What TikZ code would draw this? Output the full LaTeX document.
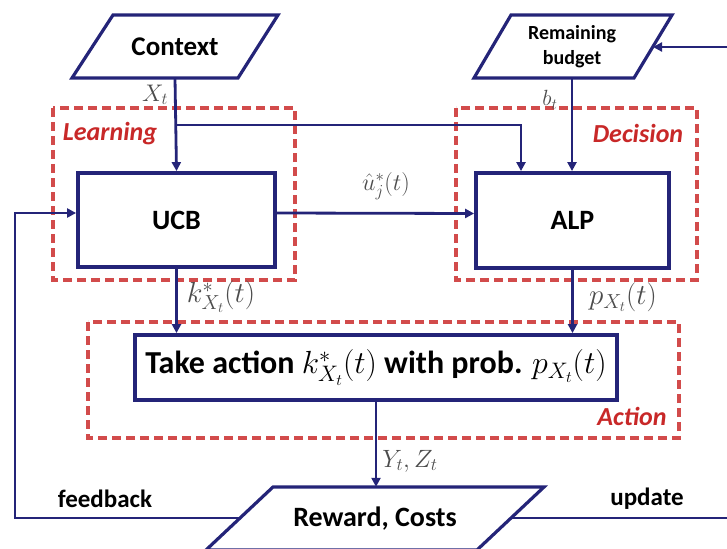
\documentclass[tikz,border=0pt]{standalone}
\usepackage{fix-cm}
\usepackage{fontspec}
\setmainfont{Carlito}
\usetikzlibrary{arrows.meta}

\definecolor{navy}{RGB}{36,36,120}
\definecolor{dashred}{RGB}{210,75,75}
\definecolor{labred}{RGB}{200,40,40}

\tikzset{
  flow/.style={draw=navy, line width=2.8pt, -{Triangle[length=9pt,width=9pt]}},
  procbox/.style={draw=navy, line width=3.8pt, fill=white, rectangle, inner sep=0pt},
  ioshape/.style={draw=navy, line width=3.2pt, fill=white, line join=miter},
  iotext/.style={rectangle, inner sep=0pt, align=center},
  groupbox/.style={draw=dashred, line width=3.2pt, dash pattern=on 9pt off 5pt},
  grouptag/.style={text=labred, font=\fontsize{26}{28}\selectfont\bfseries\itshape},
  mathtag/.style={text=black!70, font=\fontsize{24}{26}\selectfont},
  plaintag/.style={font=\fontsize{25}{27}\selectfont\bfseries}
}

\begin{document}
\begin{tikzpicture}[x=1pt,y=-1pt]
\useasboundingbox (0,0) rectangle (727,548);
\clip (0,0) rectangle (727,548);

% dashed grouping boxes
\draw[groupbox] (53,108) rectangle (295,280);
\draw[groupbox] (456,108) rectangle (697,280);
\draw[groupbox] (88,322) rectangle (679,438);
\node[grouptag] (learning) at (110,134) {Learning};
\node[grouptag] (decision) at (638,133) {Decision};
\node[grouptag] (action) at (632,416) {Action};

% input parallelograms
\draw[ioshape] (72,78) -- (113,15) -- (278,15) -- (238,78) -- cycle;
\node[iotext, minimum width=125pt, minimum height=63pt,
  font=\fontsize{27}{29}\selectfont\bfseries] (context) at (175,46.5) {Context};

\draw[ioshape] (474,78) -- (511,15) -- (672,15) -- (634,78) -- cycle;
\node[iotext, minimum width=124pt, minimum height=63pt,
  font=\fontsize{20}{25}\selectfont\bfseries] (budget) at (572,47) {Remaining\\budget};
\coordinate (budgetin) at (653,47);

% processing blocks
\node[procbox, minimum width=197pt, minimum height=94pt,
  font=\fontsize{28}{30}\selectfont\bfseries] (ucb) at (176.5,220) {UCB};
\node[procbox, minimum width=193pt, minimum height=95pt,
  font=\fontsize{28}{30}\selectfont\bfseries] (alp) at (572.5,220.5) {ALP};
\node[procbox, minimum width=482pt, minimum height=65pt,
  font=\fontsize{32}{34}\selectfont\bfseries] (act) at (376,367.5)
  {Take action $k^*_{X_t}(t)$ with prob. $p_{X_t}(t)$};

% outcome parallelogram
\draw[ioshape] (206,550) -- (273,487) -- (544,487) -- (477,550) -- cycle;
\node[iotext, minimum width=204pt, minimum height=63pt,
  font=\fontsize{28}{30}\selectfont\bfseries] (reward) at (375,518.5) {Reward, Costs};
\coordinate (rewardout-l) at (241,518);
\coordinate (rewardout-r) at (511,518);

% connectors
\coordinate (split) at (175,125);
\coordinate (alpin) at (521,125);
\draw[flow] (context.south) -- (ucb.north);
\draw[flow] (split) -- (alpin) -- (alpin |- alp.north);
\draw[flow] (budget.south) -- (budget.south |- alp.north);
\draw[flow] ([yshift=7pt]ucb.east) -- ([yshift=7pt]alp.west);
\draw[flow] (ucb.south) -- (ucb.south |- act.north);
\draw[flow] (alp.south) -- (alp.south |- act.north);
\draw[flow] (act.south) -- (act.south |- reward.north);

\coordinate (fbcorner) at (15,518);
\draw[flow] (rewardout-l) -- (fbcorner) |- ([yshift=7pt]ucb.west);
\coordinate (upcorner) at (740,518);
\draw[flow] (rewardout-r) -- (upcorner) |- (budgetin);

% connector labels
\node[mathtag] (xlab) at (155,95) {$X_t$};
\node[mathtag, font=\fontsize{22}{24}\selectfont] (blab) at (550,100) {$b_t$};
\node[mathtag] (ulab) at (386,186) {$\hat{u}^*_j(t)$};
\node[mathtag, font=\fontsize{29}{31}\selectfont] (klab) at (221,297) {$k^*_{X_t}(t)$};
\node[mathtag, font=\fontsize{29}{31}\selectfont] (plab) at (623,297) {$p_{X_t}(t)$};
\node[mathtag, font=\fontsize{25}{27}\selectfont] (yzlab) at (410,461) {$Y_t, Z_t$};
\node[plaintag] (fblab) at (105,499) {feedback};
\node[plaintag] (uplab) at (647,499) {update};
\end{tikzpicture}
\end{document}
